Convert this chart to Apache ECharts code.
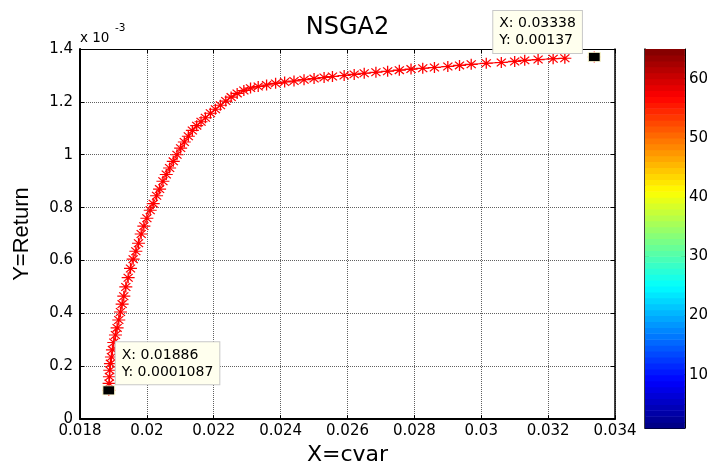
<!DOCTYPE html>
<html><head><meta charset="utf-8">
<script src="https://cdn.jsdelivr.net/npm/echarts@6/dist/echarts.min.js"></script>
<style>html,body{margin:0;padding:0;background:#fff}#c{width:711px;height:471px}</style>
</head><body><div id="c"></div>
<script>
// ---- data ----
const cvar = [0.01886,0.01887,0.01888,0.01889,0.01891,0.01894,0.01897,0.01901,0.01906,0.01911,
  0.01916,0.01921,0.01926,0.01931,0.01937,0.01944,0.01951,0.01959,0.01967,0.01975,
  0.01983,0.01991,0.02000,0.02010,0.02019,0.02029,0.02038,0.02048,0.02058,0.02068,
  0.02079,0.02090,0.02101,0.02112,0.02124,0.02136,0.02149,0.02162,0.02175,0.02190,
  0.02205,0.02220,0.02236,0.02252,0.02270,0.02290,0.02310,0.02333,0.02358,0.02385,
  0.02412,0.02440,0.02470,0.02500,0.02530,0.02555,0.02590,0.02620,0.02650,0.02685,
  0.02720,0.02755,0.02790,0.02825,0.02860,0.02900,0.02935,0.02970,0.03015,0.03060,
  0.03100,0.03130,0.03170,0.03215,0.03250];
// Return in units of 1e-3
const returnE3 = [0.1087,0.135,0.160,0.185,0.210,0.235,0.262,0.290,0.318,0.345,
  0.375,0.405,0.435,0.465,0.500,0.535,0.570,0.605,0.635,0.665,
  0.700,0.730,0.760,0.790,0.815,0.845,0.870,0.900,0.925,0.950,
  0.975,1.000,1.025,1.048,1.070,1.092,1.110,1.125,1.140,1.157,
  1.172,1.187,1.203,1.218,1.232,1.243,1.252,1.258,1.264,1.270,
  1.275,1.279,1.284,1.288,1.292,1.296,1.300,1.304,1.308,1.312,
  1.316,1.320,1.324,1.327,1.330,1.334,1.338,1.342,1.346,1.349,
  1.353,1.357,1.360,1.363,1.365];
const returnScale = 1e-3;
const tipX = [0.01886, 0.03338];
const tipY = [0.0001087, 0.00137];
const tipText = [['X: 0.01886','Y: 0.0001087'], ['X: 0.03338','Y: 0.00137']];
const xMin = 0.018, xMax = 0.034, xStep = 0.002;
const yMin = 0, yMax = 0.0014, yStep = 0.0002;
const colorbarMin = 1, colorbarMax = 65, colorbarLevels = 64;
const colorbarTicks = [10, 20, 30, 40, 50, 60];
const titleText = 'NSGA2', xName = 'X=cvar', yName = 'Y=Return';

// ---- styles / helpers ----
function jet(t) {
  const c = v => Math.round(255 * Math.max(0, Math.min(1, v)));
  return 'rgb(' + c(1.5 - Math.abs(4*t - 3)) + ',' + c(1.5 - Math.abs(4*t - 2)) + ',' + c(1.5 - Math.abs(4*t - 1)) + ')';
}
const bands = [];
for (let i = 0; i < colorbarLevels; i++) bands.push([colorbarMin + i, colorbarMin + i + 1, (i + 0.5) / colorbarLevels]);

const mainPts = cvar.map((x, i) => [x, returnE3[i] * returnScale]);
const FONT = 'DejaVu Sans';
const ASTER = 'path://M5 0V10M0 5H10M1.5 1.5L8.5 8.5M1.5 8.5L8.5 1.5';
const tipOffsets = [[7, -27], [-101, -25]];

const chart = echarts.init(document.getElementById('c'), null, {renderer: 'canvas'});
const lblStyle = {fontFamily: FONT, fontSize: 15, color: '#000'};
chart.setOption({
  animation: false,
  backgroundColor: '#fff',
  title: {text: titleText, left: 347.5, top: 16, padding: 0, textAlign: 'center',
    textStyle: {fontFamily: FONT, fontSize: 24, fontWeight: 'normal', color: '#000'}},
  graphic: [
    {type: 'text', left: 80, top: 31, style: {text: 'x 10', fontFamily: FONT, fontSize: 13.5, fill: '#000'}},
    {type: 'text', left: 115, top: 23, style: {text: '-3', fontFamily: FONT, fontSize: 10.5, fill: '#000'}}
  ],
  grid: [
    {left: 80, right: 96, top: 49, bottom: 44},
    {left: 645, width: 40, top: 49, bottom: 43}
  ],
  xAxis: [
    {gridIndex: 0, type: 'value', min: xMin, max: xMax, interval: xStep, position: 'bottom',
      name: xName, nameLocation: 'middle', nameGap: 23,
      nameTextStyle: {fontFamily: FONT, fontSize: 22, color: '#000'},
      axisLine: {onZero: false, lineStyle: {color: '#000', width: 2}},
      axisTick: {inside: true, length: 4, lineStyle: {color: '#000'}},
      axisLabel: Object.assign({margin: 5, formatter: v => String(+v.toFixed(3))}, lblStyle),
      splitLine: {show: true, lineStyle: {color: '#606060', type: 'dotted', width: 1}}},
    {gridIndex: 0, type: 'value', min: xMin, max: xMax, interval: xStep, position: 'top',
      axisLine: {onZero: false, lineStyle: {color: '#000', width: 1}},
      axisTick: {inside: true, length: 4, lineStyle: {color: '#000'}},
      axisLabel: {show: false}, splitLine: {show: false}},
    {gridIndex: 1, type: 'value', min: 0, max: 1, position: 'bottom',
      axisLine: {onZero: false, lineStyle: {color: '#000', width: 1}},
      axisTick: {show: false}, axisLabel: {show: false}, splitLine: {show: false}},
    {gridIndex: 1, type: 'value', min: 0, max: 1, position: 'top',
      axisLine: {onZero: false, lineStyle: {color: '#000', width: 1}},
      axisTick: {show: false}, axisLabel: {show: false}, splitLine: {show: false}}
  ],
  yAxis: [
    {gridIndex: 0, type: 'value', min: yMin, max: yMax, interval: yStep, position: 'left',
      name: yName, nameLocation: 'middle', nameGap: 47, nameRotate: 90,
      nameTextStyle: {fontFamily: 'Liberation Sans', fontSize: 22, color: '#000'},
      axisLine: {onZero: false, lineStyle: {color: '#000', width: 2}},
      axisTick: {inside: true, length: 4, lineStyle: {color: '#000'}},
      axisLabel: Object.assign({margin: 7, formatter: v => String(+(v / returnScale).toFixed(1))}, lblStyle),
      splitLine: {show: true, lineStyle: {color: '#606060', type: 'dotted', width: 1}}},
    {gridIndex: 0, type: 'value', min: yMin, max: yMax, interval: yStep, position: 'right',
      axisLine: {onZero: false, lineStyle: {color: '#000', width: 1.5}},
      axisTick: {inside: true, length: 4, lineStyle: {color: '#000'}},
      axisLabel: {show: false}, splitLine: {show: false}},
    {gridIndex: 1, type: 'value', min: colorbarMin, max: colorbarMax, position: 'right',
      axisLine: {onZero: false, lineStyle: {color: '#000', width: 1}},
      axisTick: {inside: true, length: 4, customValues: colorbarTicks, lineStyle: {color: '#000'}},
      axisLabel: Object.assign({margin: 4, customValues: colorbarTicks}, lblStyle),
      splitLine: {show: false}},
    {gridIndex: 1, type: 'value', min: colorbarMin, max: colorbarMax, position: 'left',
      axisLine: {onZero: false, lineStyle: {color: '#000', width: 1.5}},
      axisTick: {inside: true, length: 4, customValues: colorbarTicks, lineStyle: {color: '#000'}},
      axisLabel: {show: false}, splitLine: {show: false}}
  ],
  series: [
    {type: 'line', xAxisIndex: 0, yAxisIndex: 0, data: mainPts, z: 3,
      symbol: ASTER, symbolSize: [13, 11], showSymbol: true,
      itemStyle: {color: 'rgba(0,0,0,0)', borderColor: '#ff0000', borderWidth: 1.2},
      lineStyle: {color: '#ff0000', width: 1}},
    {type: 'scatter', xAxisIndex: 0, yAxisIndex: 0, z: 3,
      data: [[tipX[1], tipY[1]]], symbol: ASTER, symbolSize: [13, 11],
      itemStyle: {color: 'rgba(0,0,0,0)', borderColor: '#ff0000', borderWidth: 1.2}},
    {type: 'scatter', xAxisIndex: 0, yAxisIndex: 0, z: 5,
      data: tipX.map((x, i) => ({value: [x, tipY[i]], label: {offset: tipOffsets[i]}})),
      symbol: 'rect', symbolSize: [12, 9],
      itemStyle: {color: '#000000', opacity: 1, borderColor: '#fffbd0', borderWidth: 1},
      label: {show: true, position: 'inside', align: 'left', verticalAlign: 'middle',
        formatter: p => tipText[p.dataIndex].join('\n'),
        fontFamily: FONT, fontSize: 14, lineHeight: 17, color: '#000',
        backgroundColor: '#ffffee', borderColor: '#c8c8c8', borderWidth: 1, padding: [4, 6, 4, 6]}},
    {type: 'custom', xAxisIndex: 2, yAxisIndex: 2, z: 1, data: bands,
      renderItem: (params, api) => {
        const lo = api.value(0), hi = api.value(1), t = api.value(2);
        const a = api.coord([0, hi]), b = api.coord([1, lo]);
        return {type: 'rect', shape: {x: a[0], y: a[1], width: b[0] - a[0], height: b[1] - a[1] + 0.6},
          style: {fill: jet(t)}};
      }}
  ]
});
</script></body></html>
